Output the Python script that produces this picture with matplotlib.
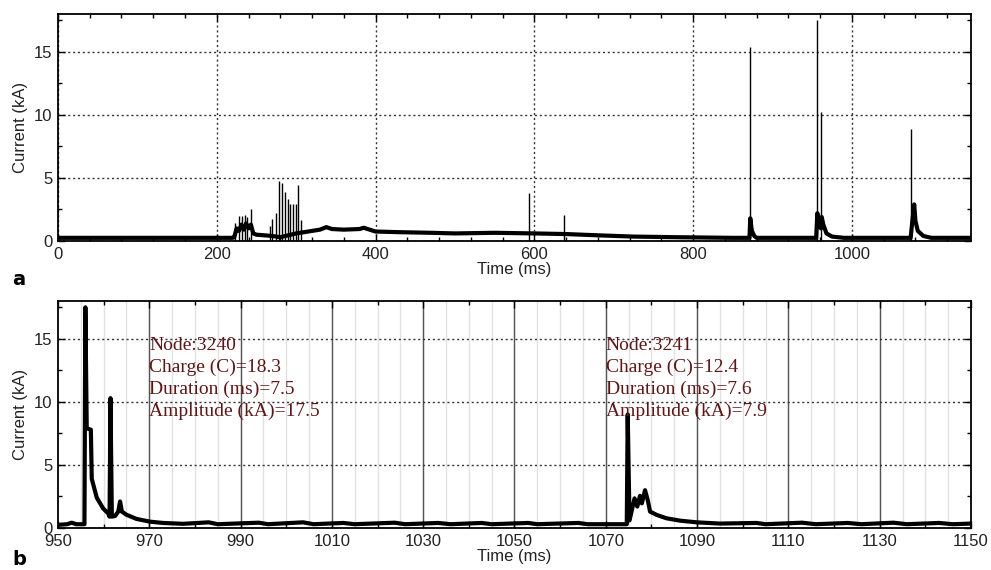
"""
lightning_current.py
Current waveform of a flash (a) and zoom on the two strokes (b).
"""
import numpy as np
import matplotlib.pyplot as plt
from matplotlib.ticker import MultipleLocator

plt.rcParams['font.family'] = ['Liberation Sans', 'DejaVu Sans']

# ---- panel a: continuous part of the record (ms, kA)
t_a = [0, 50, 100, 150, 200, 220, 222, 225, 228, 231, 234, 237, 240, 243, 246,
       250, 260, 270, 280, 290, 300, 310, 320, 330, 338, 345, 360, 380, 385,
       400, 430, 470, 500, 550, 600, 640, 680, 725, 780, 850, 871, 872, 874,
       877, 880, 955, 956.5, 958, 961, 962, 964, 968, 975, 990, 1074, 1076,
       1078.5, 1080, 1083, 1090, 1100, 1150]
i_a = [0.25, 0.25, 0.25, 0.25, 0.25, 0.25, 0.3, 1.0, 0.8, 1.3, 0.9, 1.4, 1.0,
       1.3, 0.6, 0.5, 0.45, 0.4, 0.3, 0.45, 0.6, 0.7, 0.8, 0.9, 1.1, 0.95, 0.9,
       0.95, 1.05, 0.75, 0.7, 0.65, 0.6, 0.65, 0.6, 0.55, 0.45, 0.35, 0.3, 0.25,
       0.25, 1.8, 0.8, 0.4, 0.25, 0.25, 2.2, 1.5, 1.0, 1.9, 1.3, 0.6, 0.35, 0.25,
       0.25, 1.5, 2.9, 1.6, 0.8, 0.4, 0.25, 0.25]

# impulsive pulses in panel a (ms, peak kA)
t_pulse = [223.6, 227.8, 232, 235.3, 238.7, 242.9, 266.9, 270.2, 274.4, 277.8,
           282, 286.2, 289.2, 292.5, 295.9, 299.2, 302.6, 306, 593.4, 637.5,
           871.9, 956, 961.4, 1075]
i_pulse = [1.4, 2.0, 2.0, 2.1, 1.9, 2.5, 1.2, 1.75, 2.2, 4.76, 4.63, 3.9, 3.3,
           2.9, 2.9, 2.95, 4.44, 1.7, 3.79, 2.06, 15.4, 17.5, 10.26, 8.9]

# ---- panel b: zoom 950-1150 ms
t_b = [950, 952, 953, 954, 955.8, 956.0, 956.3, 957.2, 957.4, 958.5, 959.9,
       961.0, 961.3, 961.5, 961.8, 962.5, 963.2, 963.6, 964.0, 965, 967.2,
       970.2, 973, 977.4, 983, 985, 994, 996, 1003.7, 1006, 1012.5, 1015,
       1023.8, 1026, 1033.3, 1036, 1042.8, 1045, 1053, 1055, 1064, 1066,
       1074.6, 1074.8, 1075.2, 1076.3, 1076.9, 1077.5, 1077.9, 1078.6, 1079.2,
       1079.7, 1081.2, 1083.3, 1086.3, 1089.9, 1095, 1103, 1105, 1113, 1116,
       1123, 1126, 1133, 1136, 1143, 1146, 1150]
i_b = [0.25, 0.3, 0.42, 0.3, 0.3, 17.5, 7.9, 7.8, 3.9, 2.4, 1.55, 1.15, 0.9,
       10.3, 0.9, 0.95, 1.3, 2.1, 1.3, 1.05, 0.72, 0.5, 0.4, 0.33, 0.45, 0.3,
       0.42, 0.3, 0.45, 0.3, 0.4, 0.3, 0.42, 0.3, 0.4, 0.3, 0.4, 0.3, 0.4, 0.3,
       0.4, 0.3, 0.3, 9.0, 0.6, 2.35, 1.7, 2.55, 1.95, 3.0, 2.2, 1.3, 1.03,
       0.77, 0.58, 0.45, 0.35, 0.4, 0.3, 0.42, 0.3, 0.4, 0.3, 0.42, 0.3, 0.4,
       0.3, 0.35]

stroke_x = [970, 1070]
stroke_text = [["Node:3240", "Charge (C)=18.3", "Duration (ms)=7.5", "Amplitude (kA)=17.5"],
               ["Node:3241", "Charge (C)=12.4", "Duration (ms)=7.6", "Amplitude (kA)=7.9"]]
text_y = [14.5, 12.75, 11.0, 9.25]


def style_axes(ax):
    ax.tick_params(which='both', direction='in', top=True, right=True,
                   labelsize=12, pad=4, labelcolor='#222222')
    ax.tick_params(which='major', length=5, width=1)
    ax.tick_params(which='minor', length=3, width=1)
    for s in ax.spines.values():
        s.set_linewidth(1.3)
    ax.set_ylim(0, 18)
    ax.yaxis.set_major_locator(MultipleLocator(5))
    ax.yaxis.set_minor_locator(MultipleLocator(2.5))
    ax.set_ylabel("Current (kA)", fontsize=12, color='#222222')
    ax.set_xlabel("Time (ms)", fontsize=12, labelpad=0, color='#222222')
    ax.set_axisbelow(True)


fig = plt.figure(figsize=(9.91, 5.70), dpi=100)
ax1 = fig.add_axes([0.0585, 0.5772, 0.9213, 0.3982])
ax2 = fig.add_axes([0.0585, 0.0737, 0.9213, 0.3982])

# panel a
ax1.plot(t_a, i_a, color='black', lw=3.0, solid_joinstyle='round')
ax1.vlines(t_pulse, 0, i_pulse, color='black', lw=1.0)
ax1.set_xlim(0, 1150)
ax1.xaxis.set_major_locator(MultipleLocator(200))
ax1.xaxis.set_minor_locator(MultipleLocator(40))
style_axes(ax1)
ax1.grid(True, which='major', linestyle=(0, (1.5, 2)), color='#333333', lw=1.0)

# panel b
ax2.plot(t_b, i_b, color='black', lw=3.0, solid_joinstyle='round')
ax2.set_xlim(950, 1150)
ax2.xaxis.set_major_locator(MultipleLocator(20, offset=10))
ax2.xaxis.set_minor_locator(MultipleLocator(10))
style_axes(ax2)
for x in np.arange(955, 1150, 5):
    ax2.axvline(x, color='#e2e2e2', lw=1.0, zorder=0)
for x in np.arange(970, 1150, 20):
    ax2.axvline(x, color='#555555', lw=1.0, zorder=0.5)
ax2.grid(True, which='major', axis='y', linestyle=(0, (1.5, 2)),
         color='#333333', lw=1.0)

for x0, lines in zip(stroke_x, stroke_text):
    for y0, s in zip(text_y, lines):
        ax2.text(x0, y0, s, family=['Liberation Serif', 'DejaVu Serif'],
                 fontsize=14, color='#5e1717', va='center', ha='left')

fig.text(0.012, 0.5, "a", fontsize=14, fontweight='bold', family='DejaVu Sans')
fig.text(0.012, 0.009, "b", fontsize=14, fontweight='bold', family='DejaVu Sans')

fig.savefig("out.png", dpi=100)
